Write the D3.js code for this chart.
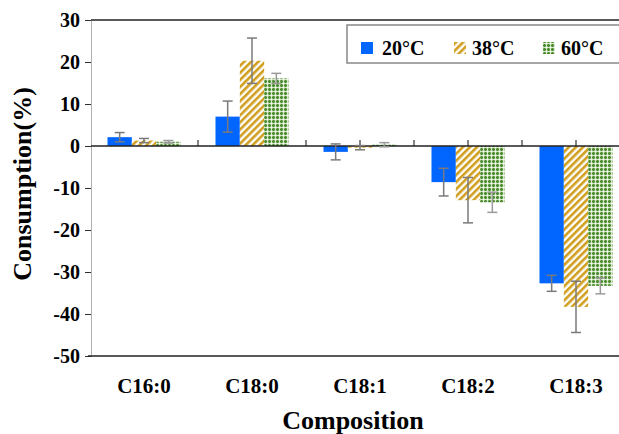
<!DOCTYPE html>
<html>
<head>
<meta charset="utf-8">
<script src="https://cdn.jsdelivr.net/npm/d3@7"></script>
<style>
  body { margin: 0; background: #fff; }
  text { font-family: "Liberation Serif", "Times New Roman", serif; font-weight: bold; }
</style>
</head>
<body>
<div id="chart"></div>
<script>
// Data
const categories = ["C16:0", "C18:0", "C18:1", "C18:2", "C18:3"];
const series = ["20°C", "38°C", "60°C"];
const values20 = [2.1, 7.0, -1.4, -8.6, -32.7];
const values38 = [1.3, 20.3, -0.4, -12.9, -38.3];
const values60 = [1.0, 16.1, 0.3, -13.4, -33.3];
const err20 = [1.1, 3.7, 1.9, 3.3, 1.9];
const err38 = [0.5, 5.4, 0.5, 5.4, 6.1];
const err60 = [0.3, 1.2, 0.5, 2.4, 1.9];
const yTicks = [30, 20, 10, 0, -10, -20, -30, -40, -50];

const width = 619;
const height = 434;

const seriesValues = [values20, values38, values60];
const seriesErrors = [err20, err38, err60];
const fills = ["#0066ff", "url(#stripes)", "url(#checks)"];

const svg = d3
  .select("#chart")
  .append("svg")
  .attr("width", width)
  .attr("height", height);

// Patterns
const defs = svg.append("defs");
const stripes = defs
  .append("pattern")
  .attr("id", "stripes")
  .attr("patternUnits", "userSpaceOnUse")
  .attr("width", 5)
  .attr("height", 5)
  .attr("patternTransform", "rotate(45)");
stripes.append("rect").attr("width", 5).attr("height", 5).attr("fill", "#fff");
stripes.append("rect").attr("width", 2.6).attr("height", 5).attr("fill", "#d09e1c");

// green plus-shaped blocks on a pale grid
const checks = defs
  .append("pattern")
  .attr("id", "checks")
  .attr("patternUnits", "userSpaceOnUse")
  .attr("width", 4)
  .attr("height", 4);
checks.append("rect").attr("width", 4).attr("height", 4).attr("fill", "#d8e8cc");
checks.append("rect").attr("x", 0).attr("y", 0).attr("width", 3).attr("height", 3).attr("fill", "#4a8a2e");
[[0, 0], [2, 0], [0, 2], [2, 2]].forEach(([cx, cy]) => {
  checks.append("rect").attr("x", cx).attr("y", cy).attr("width", 1).attr("height", 1).attr("fill", "#86b46c");
});
checks.append("rect").attr("x", 3).attr("y", 3).attr("width", 1).attr("height", 1).attr("fill", "#fff");

// Scales
const x = d3.scaleBand().domain(categories).range([90, 630]);
const xInner = d3.scaleBand().domain(series).range([-36.5, 36.5]);
const y = d3.scaleLinear().domain([-50, 30]).range([356, 20]);

// Left axis
const yAxis = d3
  .axisLeft(y)
  .tickValues(yTicks)
  .tickSize(6)
  .tickPadding(5)
  .tickFormat((d) => d);
const gy = svg.append("g").attr("transform", "translate(91,0)").call(yAxis);
gy.select(".domain").attr("stroke", "#b0b0b0");
gy.selectAll(".tick line").attr("stroke", "#333");
gy.selectAll(".tick text")
  .attr("font-size", 20)
  .attr("fill", "#000")
  .style("font-family", '"Liberation Serif", serif');

// Frame lines
svg.append("line")
  .attr("x1", 91).attr("x2", width).attr("y1", y(30)).attr("y2", y(30))
  .attr("stroke", "#222").attr("stroke-width", 1.5);
svg.append("line")
  .attr("x1", 88).attr("x2", width).attr("y1", y(-50)).attr("y2", y(-50))
  .attr("stroke", "#222").attr("stroke-width", 1.5);

// Zero line ticks at category centres and boundaries
const zeroTicks = [];
categories.forEach((c, i) => {
  zeroTicks.push(x(c) + x.bandwidth() / 2);
  if (i > 0) zeroTicks.push(x(c));
});
svg.selectAll(".ztick")
  .data(zeroTicks)
  .enter()
  .append("line")
  .attr("class", "ztick")
  .attr("x1", (d) => d).attr("x2", (d) => d)
  .attr("y1", y(0)).attr("y2", y(0) - 6)
  .attr("stroke", "#333").attr("stroke-width", 1.2);

// Bars
const bars = [];
series.forEach((s, si) => {
  categories.forEach((c, ci) => {
    bars.push({ s, si, c, v: seriesValues[si][ci], e: seriesErrors[si][ci] });
  });
});

svg.selectAll(".bar")
  .data(bars)
  .enter()
  .append("rect")
  .attr("class", "bar")
  .attr("x", (d) => x(d.c) + x.bandwidth() / 2 + xInner(d.s))
  .attr("width", xInner.bandwidth())
  .attr("y", (d) => y(Math.max(0, d.v)))
  .attr("height", (d) => Math.abs(y(d.v) - y(0)))
  .attr("fill", (d) => fills[d.si]);

// Zero line
svg.append("line")
  .attr("x1", 91).attr("x2", width).attr("y1", y(0)).attr("y2", y(0))
  .attr("stroke", "#222").attr("stroke-width", 1.5);

// Error bars
const eg = svg.selectAll(".err")
  .data(bars)
  .enter()
  .append("g")
  .attr("class", "err")
  .attr("stroke", (d) => (d.si === 2 ? "#9a9a9a" : "#7a7a7a"))
  .attr("stroke-width", 1.5)
  .attr("transform", (d) => `translate(${x(d.c) + x.bandwidth() / 2 + xInner(d.s) + xInner.bandwidth() / 2},0)`);
eg.append("line")
  .attr("y1", (d) => y(d.v + d.e)).attr("y2", (d) => y(d.v - d.e));
eg.append("line")
  .attr("x1", -5).attr("x2", 5)
  .attr("y1", (d) => y(d.v + d.e)).attr("y2", (d) => y(d.v + d.e));
eg.append("line")
  .attr("x1", -5).attr("x2", 5)
  .attr("y1", (d) => y(d.v - d.e)).attr("y2", (d) => y(d.v - d.e));

// Category labels
svg.selectAll(".cat")
  .data(categories)
  .enter()
  .append("text")
  .attr("class", "cat")
  .attr("x", (d) => x(d) + x.bandwidth() / 2)
  .attr("y", 393)
  .attr("text-anchor", "middle")
  .attr("font-size", 21)
  .text((d) => d);

// Axis titles
svg.append("text")
  .attr("x", 353)
  .attr("y", 429)
  .attr("text-anchor", "middle")
  .attr("font-size", 26)
  .text("Composition");
svg.append("text")
  .attr("transform", "translate(31,184) rotate(-90)")
  .attr("text-anchor", "middle")
  .attr("font-size", 26)
  .text("Consumption(%)");

// Legend
const legend = svg.append("g");
legend.append("rect")
  .attr("x", 347).attr("y", 25)
  .attr("width", 290).attr("height", 38)
  .attr("fill", "#fff")
  .attr("stroke", "#888").attr("stroke-width", 1.5);
const legendX = [361, 454, 543];
const li = legend.selectAll(".li")
  .data(series)
  .enter()
  .append("g")
  .attr("transform", (d, i) => `translate(${legendX[i]},0)`);
li.append("rect")
  .attr("x", 0).attr("y", 42)
  .attr("width", 12).attr("height", 12)
  .attr("fill", (d, i) => fills[i]);
li.append("text")
  .attr("x", (d, i) => (i === 0 ? 21 : 18))
  .attr("y", 55)
  .attr("font-size", 20)
  .text((d) => d);
</script>
</body>
</html>
